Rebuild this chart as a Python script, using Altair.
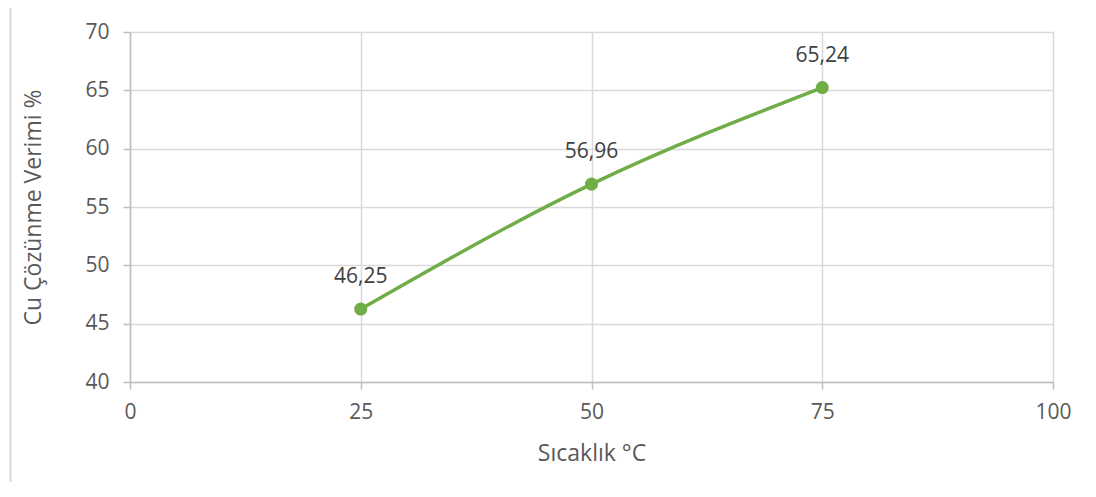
import altair as alt
import pandas as pd

temps = [25, 50, 75]
yields = [46.25, 56.96, 65.24]
labels = [f"{v:.2f}".replace(".", ",") for v in yields]

df = pd.DataFrame({"t": temps, "y": yields, "lab": labels})

FONT = "Open Sans"
GREEN = "#70AD47"

x = alt.X("t:Q", scale=alt.Scale(domain=[0, 100], nice=False),
          axis=alt.Axis(values=[0, 25, 50, 75, 100], title="Sıcaklık °C",
                        tickSize=7, labelPadding=12, titleY=71, labelFlush=False,
                        titleBaseline="middle"))
y = alt.Y("y:Q", scale=alt.Scale(domain=[40, 70], nice=False, zero=False),
          axis=alt.Axis(values=[40, 45, 50, 55, 60, 65, 70],
                        title="Cu Çözünme Verimi %", tickSize=7, labelPadding=14,
                        titleX=-97, titleY=175, titleAngle=-90, labelFlush=False,
                        titleAlign="center", titleBaseline="middle"))

base = alt.Chart(df)
line = base.mark_line(color=GREEN, strokeWidth=3.5, interpolate="monotone").encode(x=x, y=y)
pts = base.mark_point(color=GREEN, filled=True, opacity=1, size=170).encode(x=x, y=y)
txt = base.mark_text(font=FONT, fontSize=21, color="#404040", dy=-32,
                     baseline="middle").encode(x=x, y=y, text="lab:N")
frame = alt.Chart(df).mark_rule(color="#d9d9d9", strokeWidth=1.5).encode(
    x=alt.value(-119.5), y=alt.value(-40), y2=alt.value(480))

chart = alt.layer(frame, line, pts, txt).properties(
    width=923, height=350,
    autosize=alt.AutoSizeParams(type="none"),
    padding={"left": 122, "top": 24, "right": 35, "bottom": 100},
).configure_view(stroke=None).configure_axis(
    labelFont=FONT, titleFont=FONT, labelFontSize=21, titleFontSize=23,
    labelColor="#595959", titleColor="#595959", titleFontWeight="normal",
    gridColor="#d9d9d9", gridWidth=1.5, domainColor="#bfbfbf", domainWidth=1.5,
    tickColor="#bfbfbf", tickWidth=1.5,
)

chart.save("out.html", embed_options={"renderer": "svg", "actions": False})
